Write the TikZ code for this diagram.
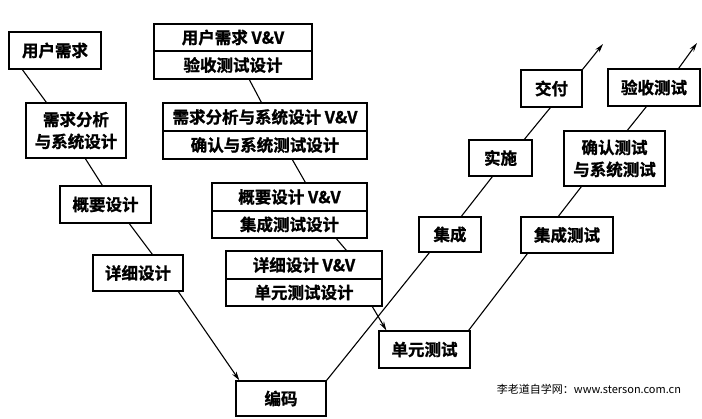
\documentclass[tikz,border=0pt]{standalone}
\usepackage{fontspec}
\newfontfamily\cjk{Noto Sans CJK SC}
\newfontfamily\cjkb{Noto Sans CJK SC}[BoldFont={* Bold},BoldFeatures={FakeBold=1.2}]
\usetikzlibrary{calc,arrows.meta}
\begin{document}
\begin{tikzpicture}[x=1pt,y=-1pt,
  box/.style={draw,line width=1.3pt,inner sep=0pt,align=center,
    font=\cjkb\bfseries\fontsize{16.5}{22}\selectfont},
  conn/.style={line width=1.1pt},
  arr/.style={line width=1.1pt,-{Stealth[length=9pt,width=5pt]}}]
\useasboundingbox (0,0) rectangle (702,418);
% left branch
\node[box,minimum width=92pt,minimum height=37pt] (ur) at (55,50.5) {用户需求};
\node[box,minimum width=100pt,minimum height=55pt] (ra) at (76,130.5) {需求分析\\与系统设计};
\node[box,minimum width=91pt,minimum height=37pt] (gy) at (105.5,204.5) {概要设计};
\node[box,minimum width=90pt,minimum height=36pt] (xx) at (138,273) {详细设计};
\node[box,minimum width=90pt,minimum height=35pt] (bm) at (281,398.5) {编码};
% V&V column
\node[box,minimum width=158pt,minimum height=27pt] (v1a) at (233,37.5) {用户需求 V\&V};
\node[box,minimum width=158pt,minimum height=28pt] (v1b) at (233,65) {验收测试设计};
\node[box,minimum width=204pt,minimum height=28pt] (v2a) at (265,117) {需求分析与系统设计 V\&V};
\node[box,minimum width=204pt,minimum height=28pt] (v2b) at (265,145) {确认与系统测试设计};
\node[box,minimum width=155pt,minimum height=28pt] (v3a) at (289.5,197) {概要设计 V\&V};
\node[box,minimum width=155pt,minimum height=27pt] (v3b) at (289.5,224.5) {集成测试设计};
\node[box,minimum width=156pt,minimum height=28pt] (v4a) at (304,265) {详细设计 V\&V};
\node[box,minimum width=156pt,minimum height=27pt] (v4b) at (304,292.5) {单元测试设计};
% right branches
\node[box,minimum width=91pt,minimum height=37pt] (dy) at (424.5,349.5) {单元测试};
\node[box,minimum width=62pt,minimum height=35pt] (jc) at (450,234.5) {集成};
\node[box,minimum width=92pt,minimum height=36pt] (jt) at (567,235) {集成测试};
\node[box,minimum width=63pt,minimum height=36pt] (ss) at (500.5,158) {实施};
\node[box,minimum width=101pt,minimum height=55pt] (qr) at (614.5,158.5) {确认测试\\与系统测试};
\node[box,minimum width=61pt,minimum height=37pt] (jf) at (551.5,88.5) {交付};
\node[box,minimum width=92pt,minimum height=37pt] (ys) at (654,87.5) {验收测试};
\coordinate (e1) at (603,44);
\coordinate (e2) at (697,43);
% watermark
\node[font=\cjk\fontsize{11}{13}\selectfont,inner sep=0pt] (wm) at (589,389) {李老道自学网：www.sterson.com.cn};
% left connectors
\draw[conn] ($(ur.south west)+(14,0)$) -- ($(ra.north west)+(21,0)$);
\draw[conn] ($(ra.south west)+(60,0)$) -- ($(gy.north west)+(43,0)$);
\draw[conn] ($(gy.south west)+(70,0)$) -- ($(xx.north west)+(60,0)$);
\draw[arr] ($(xx.south west)+(86,0)$) -- ($(bm.north west)+(4,0)$);
% V&V connectors
\draw[conn] ($(v1b.south west)+(96,0)$) -- ($(v2a.north west)+(99,0)$);
\draw[conn] ($(v2b.south west)+(130,0)$) -- ($(v3a.north west)+(94,0)$);
\draw[conn] ($(v3b.south west)+(125,0)$) -- ($(v4a.north west)+(121,0)$);
\draw[arr] ($(v4b.south west)+(147,0)$) -- ($(dy.north west)+(8,0)$);
% rising branch 1
\draw[conn] (bm.north east) -- ($(jc.south west)+(11,0)$);
\draw[conn] ($(jc.north west)+(43,0)$) -- ($(ss.south west)+(24,0)$);
\draw[conn] ($(ss.north west)+(56,0)$) -- ($(jf.south west)+(30,0)$);
\draw[arr] (jf.north east) -- (e1);
% rising branch 2
\draw[conn] ($(dy.north east)+(-2,0)$) -- ($(jt.south west)+(7,0)$);
\draw[conn] ($(jt.north west)+(38,0)$) -- ($(qr.south west)+(18,0)$);
\draw[conn] ($(qr.north west)+(64,0)$) -- ($(ys.south west)+(39,0)$);
\draw[arr] ($(ys.north east)+(-22,0)$) -- (e2);
\end{tikzpicture}
\end{document}
